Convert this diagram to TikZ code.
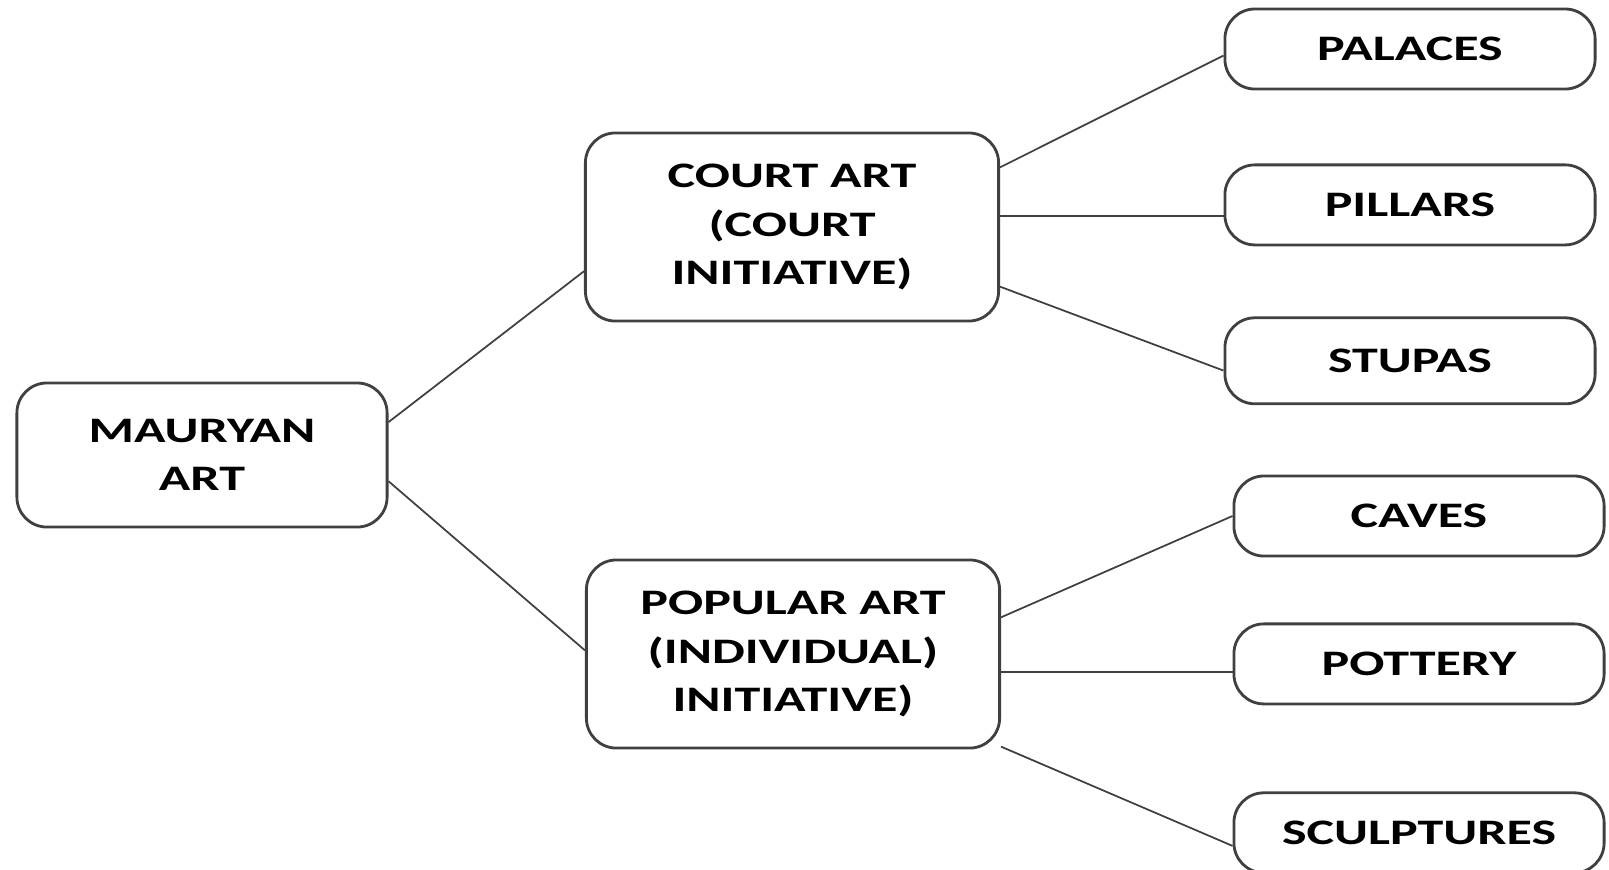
\documentclass[tikz,border=0pt]{standalone}
\usepackage{fontspec}
\newfontfamily\boxfont{Carlito}[FakeStretch=1.45]
\usetikzlibrary{positioning}

\begin{document}
\begin{tikzpicture}
	[x=0.01cm, y=-0.01cm, font=\boxfont\bfseries\fontsize{10.2}{13.7}\selectfont,
	branch/.style	= {draw=black!75, line width=0.8pt, rounded corners=0.3cm, fill=white, align=center, inner sep=0pt},
	root/.style		= {branch, minimum width=3.7cm, minimum height=1.44cm},
	mid/.style		= {branch, minimum width=4.13cm, minimum height=1.88cm},
	leaf/.style		= {branch, minimum width=3.7cm, minimum height=0.8cm},
	link/.style		= {draw=black!75, line width=0.5pt}]

	\useasboundingbox (0,0) rectangle (1609,869);

	\node [root]	at (202,455)						(maur)		{MAURYAN\\ART};
	\node [mid]		at (792,227)						(court)		{COURT ART\\(COURT\\INITIATIVE)};
	\node [mid]		at (793,654)						(popular)	{POPULAR ART\\(INDIVIDUAL)\\INITIATIVE)};

	\node [leaf]	at (1410,49)						(pal)		{PALACES};
	\node [leaf]	[below = 0.73cm of pal]				(pil)		{PILLARS};
	\node [leaf, minimum height=0.86cm]	[below = 0.70cm of pil]	(stu)	{STUPAS};
	\node [leaf]	at (1419,516)						(cav)		{CAVES};
	\node [leaf]	[below = 0.65cm of cav]				(pot)		{POTTERY};
	\node [leaf]	[below = 0.86cm of pot]				(scu)		{SCULPTURES};

	% branches
	\draw [link] (maur.10)		-- (court.192);
	\draw [link] (maur.-8)		-- (popular.179);
	\draw [link] (court.16)		-- (pal.182);
	\draw [link] (court.3)		-- (court.3 -| pil.west);
	\draw [link] (court.-16)	-- (stu.183);
	\draw [link] (popular.10)	-- (cav.180);
	\draw [link] (popular.-5)	-- (popular.-5 -| pot.west);
	\draw [link] (popular.-24)	-- (scu.184);
\end{tikzpicture}
\end{document}
